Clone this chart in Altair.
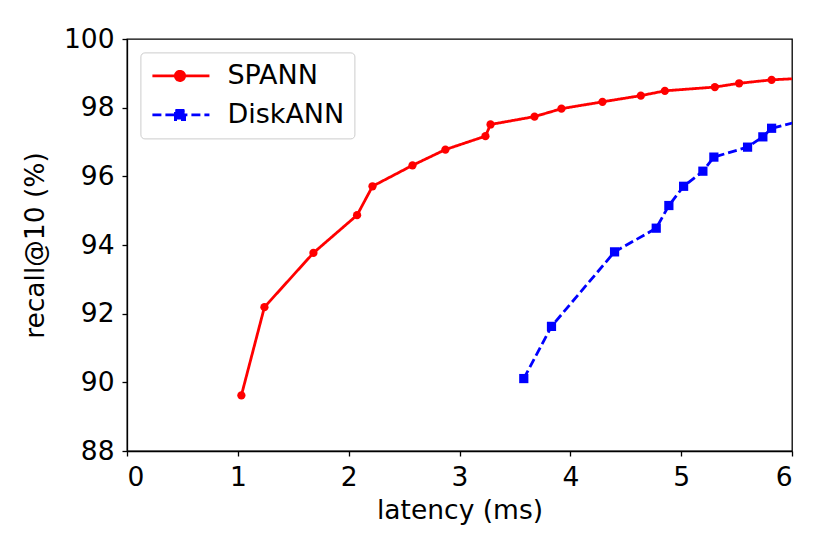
import altair as alt
import pandas as pd

spann_latency = [1.032, 1.240, 1.682, 2.076, 2.215, 2.576, 2.873, 3.234, 3.280, 3.677,
                 3.920, 4.290, 4.636, 4.853, 5.304, 5.523, 5.816, 6.30]
spann_recall = [89.62, 92.19, 93.77, 94.87, 95.71, 96.32, 96.78, 97.17, 97.51, 97.74,
                97.97, 98.17, 98.35, 98.49, 98.60, 98.71, 98.81, 98.89]

disk_latency = [3.580, 3.830, 4.399, 4.775, 4.889, 5.022, 5.196, 5.295, 5.599, 5.737,
                5.816, 6.30]
disk_recall = [90.11, 91.63, 93.80, 94.49, 95.15, 95.71, 96.15, 96.56, 96.85, 97.15,
               97.40, 97.79]

methods = ["SPANN", "DiskANN"]
colors = ["#ff0000", "#0000ff"]

df = pd.concat([
    pd.DataFrame({"latency": spann_latency, "recall": spann_recall, "method": "SPANN"}),
    pd.DataFrame({"latency": disk_latency, "recall": disk_recall, "method": "DiskANN"}),
])
df["order"] = range(len(df))

FONT = "DejaVu Sans"
FS = 26.5

x = alt.X("latency:Q", title="latency (ms)",
          scale=alt.Scale(domain=[0, 6], nice=False),
          axis=alt.Axis(values=[0, 1, 2, 3, 4, 5, 6], format="d"))
y = alt.Y("recall:Q", title="recall@10 (%)",
          scale=alt.Scale(domain=[88, 100], nice=False, zero=False),
          axis=alt.Axis(values=[88, 90, 92, 94, 96, 98, 100], format="d"))

# legend symbols: a line segment with the marker drawn on it
circle_path = "M-1,0L3.96,0M1.80,0A0.40,0.40,0,1,1,1.00,0A0.40,0.40,0,1,1,1.80,0Z"
square_path = "M-1,0L3.96,0M1.00,-0.40L1.80,-0.40L1.80,0.40L1.00,0.40Z"

legend = alt.Legend(
    title=None, orient="none", legendX=13.4, legendY=13.4,
    padding=10, strokeColor="#cccccc", fillColor="white", cornerRadius=4,
    labelFont=FONT, labelFontSize=27, labelColor="black",
    labelOffset=50, rowPadding=11, symbolSize=529, symbolStrokeWidth=2.8,
    symbolOpacity=1,
)

cscale = alt.Scale(domain=methods, range=colors)
dscale = alt.Scale(domain=methods, range=[[1, 0], [9, 4]])

lines = alt.Chart(df).mark_line(strokeWidth=2.8, clip=True).encode(
    x=x, y=y,
    color=alt.Color("method:N", scale=cscale, legend=None),
    strokeDash=alt.StrokeDash("method:N", scale=dscale, legend=None),
    order="order:Q", detail="method:N",
)

pts_spann = alt.Chart(df).transform_filter("datum.method == 'SPANN'").mark_point(
    filled=True, opacity=1, clip=True, shape="circle", size=68
).encode(x=x, y=y, color=alt.Color("method:N", scale=cscale, legend=None))

pts_disk = alt.Chart(df).transform_filter("datum.method == 'DiskANN'").mark_point(
    filled=True, opacity=1, clip=True, shape="square", size=85
).encode(x=x, y=y, color=alt.Color("method:N", scale=cscale, legend=None))

legend_layer = alt.Chart(df).mark_point(
    filled=True, strokeWidth=2.8, size=0
).encode(
    x=x, y=y,
    fill=alt.Fill("method:N", scale=cscale, legend=legend),
    stroke=alt.Stroke("method:N", scale=cscale, legend=legend),
    shape=alt.Shape("method:N", scale=alt.Scale(domain=methods,
                                                range=[circle_path, square_path]),
                    legend=legend),
    strokeDash=alt.StrokeDash("method:N", scale=dscale, legend=legend),
)

chart = alt.layer(legend_layer, lines, pts_spann, pts_disk).properties(
    width=665, height=412,
    autosize=alt.AutoSizeParams(type="none"),
    padding={"left": 119, "top": 31, "right": 14, "bottom": 80},
    background="white",
).configure_view(
    stroke="black", strokeWidth=1.3
).configure_axis(
    grid=False, domainColor="black", domainWidth=1.3, tickColor="black", tickWidth=1.3,
    tickSize=5, labelFont=FONT, labelFontSize=FS, labelColor="black", labelPadding=8,
    titleFont=FONT, titleFontSize=FS, titleFontWeight="normal", titleColor="black",
).configure_axisX(
    titlePadding=7
).configure_axisY(
    titlePadding=14
)

chart.save("out.html", embed_options={"renderer": "svg", "actions": False})
